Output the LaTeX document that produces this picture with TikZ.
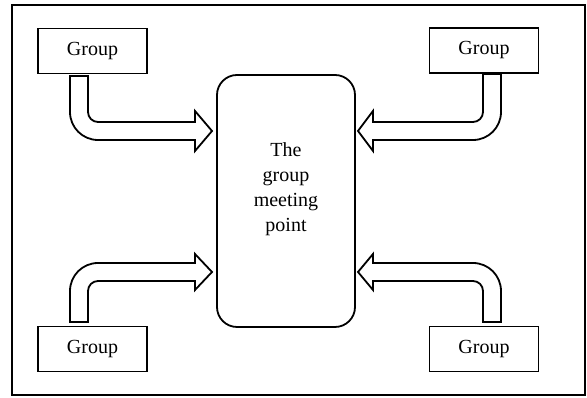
\documentclass[tikz,border=0pt]{standalone}
\usepackage{fontspec}
\setmainfont{Liberation Serif}
\begin{document}
\begin{tikzpicture}[x=1pt,y=1pt,
  grp/.style={draw,line width=1.8pt,minimum width=109pt,minimum height=45pt,inner sep=0pt,font=\fontsize{20}{24}\selectfont},
  fatarrow/.style={draw,line width=1.8pt,line join=miter,fill=white}]
\useasboundingbox (0,0) rectangle (587,398);
\draw[line width=1.8pt] (12,3) rectangle (585,393);
% groups
\node[grp] (tl) at (92.5,347) {Group};
\node[grp] (tr) at (484,347.5) {Group};
\node[grp] (bl) at (92.5,49) {Group};
\node[grp] (br) at (484,49) {Group};
% meeting point
\node[draw,line width=1.8pt,rounded corners=20pt,minimum width=138pt,minimum height=252pt] (mp) at (286,197) {};
\node[align=center,font=\fontsize{20}{25}\selectfont] (lbl) at (286,209) {The\\group\\meeting\\point};
% arrows
\draw[fatarrow] (70,322) -- (70,286) arc[start angle=180,end angle=270,radius=28pt]
  -- (195,258) -- (195,247) -- (212,267) -- (195,287) -- (195,276) -- (98,276)
  arc[start angle=270,end angle=180,radius=10pt] -- (88,322) -- cycle;
\draw[fatarrow] (483,324) -- (483,286) arc[start angle=0,end angle=-90,radius=10pt]
  -- (373,276) -- (373,287) -- (358,267) -- (373,247) -- (373,258) -- (473,258)
  arc[start angle=-90,end angle=0,radius=28pt] -- (501,324) -- cycle;
\draw[fatarrow] (70,76) -- (70,107) arc[start angle=180,end angle=90,radius=28pt]
  -- (195,135) -- (195,144) -- (212,126) -- (195,108) -- (195,117) -- (98,117)
  arc[start angle=90,end angle=180,radius=10pt] -- (88,76) -- cycle;
\draw[fatarrow] (501,76) -- (501,107) arc[start angle=0,end angle=90,radius=28pt]
  -- (373,135) -- (373,144) -- (358,126) -- (373,108) -- (373,117) -- (473,117)
  arc[start angle=90,end angle=0,radius=10pt] -- (483,76) -- cycle;
\end{tikzpicture}
\end{document}
